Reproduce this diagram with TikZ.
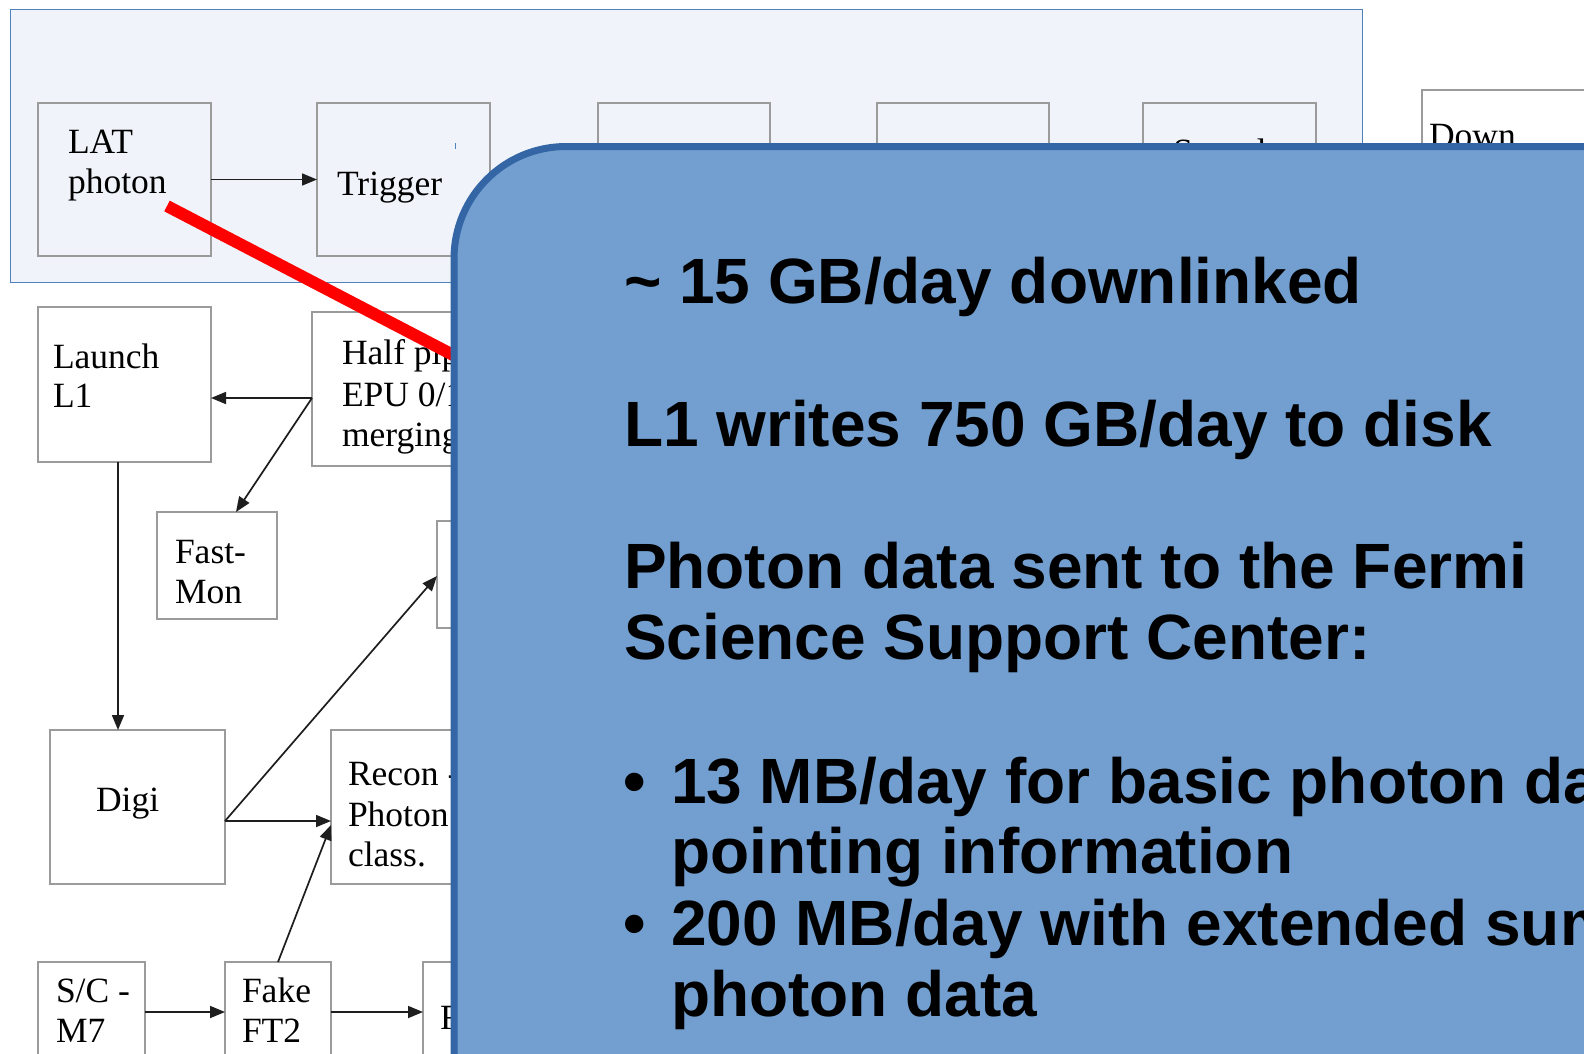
\documentclass[tikz,border=0pt]{standalone}
\usepackage{fontspec}
\setmainfont{Liberation Serif}
\newfontfamily\notefont{Liberation Sans}
\usetikzlibrary{arrows.meta}
\definecolor{panelfill}{RGB}{240,244,250}
\definecolor{panelline}{RGB}{79,129,189}
\definecolor{boxline}{RGB}{155,155,155}
\definecolor{noteFill}{RGB}{114,159,207}
\definecolor{noteLine}{RGB}{52,101,164}
\definecolor{arrowline}{RGB}{30,30,30}
\begin{document}
\begin{tikzpicture}[x=1pt,y=-1pt,
 box/.style={draw=boxline,line width=1.6pt,inner sep=0pt,outer sep=0pt},
 lbl/.style={anchor=base west,inner sep=0pt,outer sep=0pt,font=\fontsize{35.5}{41}\selectfont},
 flow/.style={draw=arrowline,line width=1.7pt,-{Triangle[length=15pt,width=12pt]}},
 note/.style={anchor=base west,inner sep=0pt,outer sep=0pt,font=\notefont\bfseries\fontsize{64}{71}\selectfont}]
\useasboundingbox (0,0) rectangle (1584,1053);
\clip (0,0) rectangle (1584,1053);
\fill[white] (0,0) rectangle (1584,1053);
% light panel
\node[draw=panelline,fill=panelfill,line width=1pt,inner sep=0pt,outer sep=0pt,minimum width=1352pt,minimum height=273pt] (panel) at (686,145.5) {};
% boxes
\node[box,minimum width=173pt,minimum height=153pt] (lat) at (124.5,179.5) {};
\node[box,minimum width=173pt,minimum height=153pt] (trig) at (403.5,179.5) {};
\node[box,minimum width=172pt,minimum height=153pt] (bthree) at (684,179.5) {};
\node[box,minimum width=172pt,minimum height=153pt] (bfour) at (963,179.5) {};
\node[box,minimum width=173pt,minimum height=153pt] (stored) at (1229.5,179.5) {};
\node[box,fill=white,minimum width=173pt,minimum height=153pt] (down) at (1508.5,166.5) {};
\node[box,minimum width=173pt,minimum height=155pt] (launch) at (124.5,384.5) {};
\node[box,minimum width=173pt,minimum height=154pt] (half) at (398.5,389) {};
\node[box,minimum width=120pt,minimum height=107pt] (fast) at (217,565.5) {};
\node[box,minimum width=120pt,minimum height=107pt] (bsix) at (497,574.5) {};
\node[box,minimum width=175pt,minimum height=154pt] (digi) at (137.5,807) {};
\node[box,minimum width=174pt,minimum height=154pt] (recon) at (418,807) {};
\node[box,minimum width=107pt,minimum height=153pt] (sc) at (91.5,1038.5) {};
\node[box,minimum width=106pt,minimum height=153pt] (fake) at (278,1038.5) {};
\node[box,minimum width=107pt,minimum height=153pt] (fbox) at (476.5,1038.5) {};
% labels
\node[lbl] (latA) at (68,153) {LAT};
\node[lbl] (latB) at (68,193) {photon};
\node[lbl] (trigA) at (337,195) {Trigger};
\node[lbl] (stA) at (1173,163) {Stored};
\node[lbl] (downA) at (1429,147) {Down};
\node[lbl] (lnA) at (53,368) {Launch};
\node[lbl] (lnB) at (53,407) {L1};
\node[lbl] (hpA) at (342,364) {Half pipe};
\node[lbl] (hpB) at (342,406) {EPU 0/1};
\node[lbl] (hpC) at (342,446) {merging};
\node[lbl] (fmA) at (175,563) {Fast-};
\node[lbl] (fmB) at (175,603) {Mon};
\node[lbl] (dgA) at (96,811) {Digi};
\node[lbl] (rcA) at (348,785) {Recon -};
\node[lbl] (rcB) at (348,826) {Photon};
\node[lbl] (rcC) at (348,866) {class.};
\node[lbl] (scA) at (56,1002) {S/C -};
\node[lbl] (scB) at (56,1042) {M7};
\node[lbl] (fkA) at (242,1002) {Fake};
\node[lbl] (fkB) at (242,1042) {FT2};
\node[lbl] (fbA) at (440,1029) {F};
% connectors
\draw[flow] (lat.east) -- (trig.west);
\coordinate (hp) at (312,398);
\draw[flow] (hp) -- (hp -| launch.east);
\coordinate (fmIn) at (236,512);
\draw[flow] (hp) -- (fmIn);
\coordinate (lout) at (118,462);
\draw[flow] (lout) -- (lout |- digi.north);
\coordinate (dg) at (225,821);
\draw[flow] (dg) -- (dg -| recon.west);
\coordinate (bsixIn) at (437,576);
\draw[flow] (dg) -- (bsixIn);
\coordinate (rcIn) at (331,825);
\draw[flow] (fake.north) -- (rcIn);
\coordinate (rowf) at (0,1012);
\draw[flow] (sc.east |- rowf) -- (fake.west |- rowf);
\draw[flow] (fake.east |- rowf) -- (fbox.west |- rowf);
% small tick
\draw[panelline,line width=1pt] (455,143) -- (455,149);
% red pointer
\draw[red,line width=12pt] (167,206) -- (480,369);
% callout
\node[draw=noteLine,fill=noteFill,line width=7pt,rounded corners=112pt,anchor=north west,inner sep=0pt,outer sep=0pt,minimum width=1400pt,minimum height=1100pt] (callout) at (454,146.5) {};
\node[note] (nA) at (624,303) {\textasciitilde{} 15 GB/day downlinked};
\node[note] (nB) at (624,446) {L1 writes 750 GB/day to disk};
\node[note] (nC) at (624,588) {Photon data sent to the Fermi};
\node[note] (nD) at (624,659) {Science Support Center:};
\node[note] (bA) at (623,803) {\textbullet};
\node[note] (nE) at (671,803) {13 MB/day for basic photon data};
\node[note] (nF) at (671,873) {pointing information};
\node[note] (bB) at (623,945) {\textbullet};
\node[note] (nG) at (671,945) {200 MB/day with extended summary};
\node[note] (nH) at (671,1016) {photon data};
\end{tikzpicture}
\end{document}
